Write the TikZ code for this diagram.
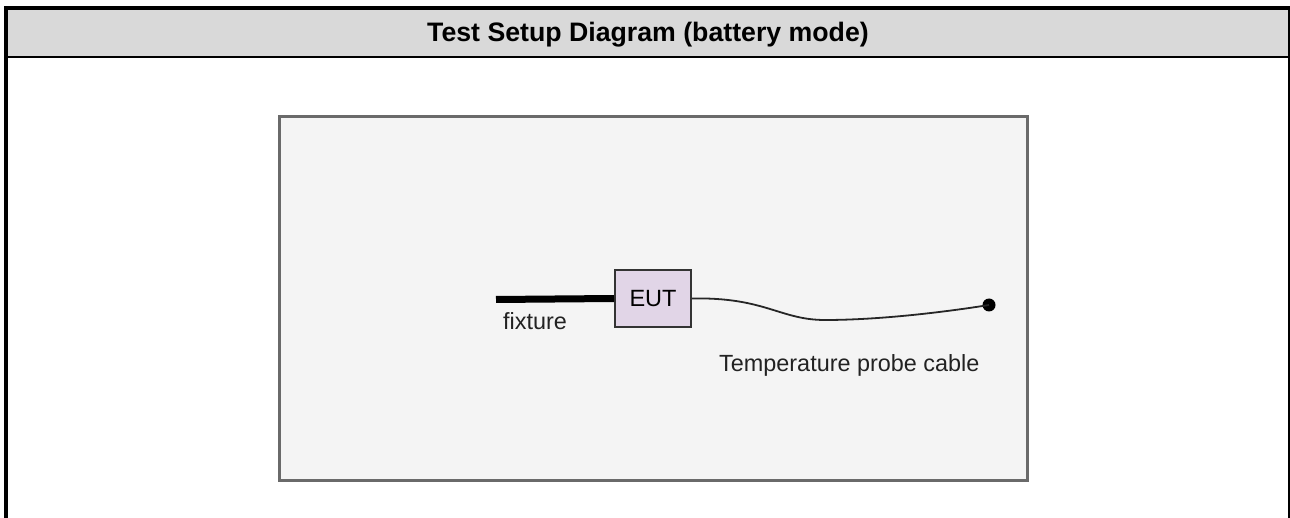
\documentclass[tikz,border=0pt]{standalone}
\usepackage{fontspec}
\setmainfont{Liberation Sans}
\definecolor{bandgray}{HTML}{D9D9D9}
\definecolor{panelfill}{HTML}{F4F4F4}
\definecolor{panelline}{HTML}{6A6A6A}
\definecolor{eutfill}{HTML}{E1D5E7}
\definecolor{eutline}{HTML}{333333}
\definecolor{labelcol}{HTML}{222222}
\begin{document}
\begin{tikzpicture}[x=1pt,y=-1pt,
  frameline/.style={line width=4pt,black},
  panel/.style={draw=panelline,fill=panelfill,line width=3pt,
    minimum width=748pt,minimum height=364pt,inner sep=0pt},
  eutbox/.style={draw=eutline,fill=eutfill,line width=2pt,
    minimum width=76pt,minimum height=57pt,inner sep=0pt,
    font=\fontsize{23.5}{27}\selectfont},
  label/.style={inner sep=0pt,text=labelcol,font=\fontsize{23.4}{28}\selectfont},
  titletext/.style={inner sep=0pt,font=\bfseries\fontsize{26.7}{31}\selectfont},
  fixtureline/.style={line width=7pt,black},
  cable/.style={line width=1.8pt,black!85},
  probetip/.style={circle,fill=black,inner sep=0pt,minimum size=13pt}]
\useasboundingbox (0,0) rectangle (1290,518);
% outer table frame and header band
\fill[bandgray] (8,10) rectangle (1288,56);
\draw[frameline] (6,518) -- (6,8) -- (1290,8) -- (1290,518);
\draw[line width=2.5pt] (4,57) -- (1290,57);
\node[titletext,anchor=base] (title) at (648,41.7) {Test Setup Diagram (battery mode)};
% test area
\node[panel] (area) at (653,298.5) {};
\node[eutbox] (eut) at (653,298.5) {EUT};
\coordinate (fixend) at (496,299.5);
\draw[fixtureline] (fixend) -- (eut.west);
\node[label,anchor=base west] (fixlabel) at (503,330) {fixture};
\node[probetip] (probe) at (989,305) {};
\draw[cable] (eut.east) .. controls (765,297) and (780,320) .. (825,320)
  .. controls (880,320) and (945,312) .. (probe.center);
\node[label,anchor=base west] (probelabel) at (719,372) {Temperature probe cable};
\end{tikzpicture}
\end{document}
